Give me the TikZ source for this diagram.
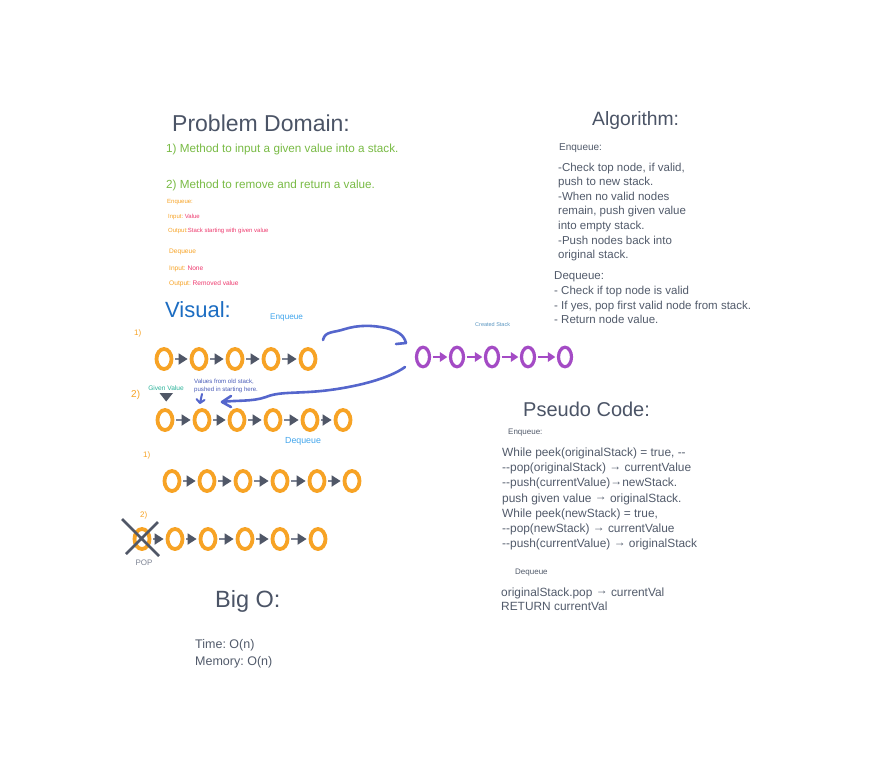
\documentclass[tikz,border=0pt]{standalone}
\usepackage{fontspec}
\setmainfont{Liberation Sans}[Ligatures=TeXOff]
\usetikzlibrary{shapes.geometric,arrows.meta}
\definecolor{titleC}{HTML}{4B5466}
\definecolor{bodyC}{HTML}{525B6B}
\definecolor{orangeC}{HTML}{F7A325}
\definecolor{pinkC}{HTML}{EE3A6E}
\definecolor{greenC}{HTML}{79BB45}
\definecolor{visualC}{HTML}{1C6DC2}
\definecolor{lightblueC}{HTML}{41A5EC}
\definecolor{purpleC}{HTML}{A44BC5}
\definecolor{curveC}{HTML}{5566CC}
\definecolor{lineC}{HTML}{7E8494}
\definecolor{headC}{HTML}{505767}
\definecolor{tealC}{HTML}{2BB39A}
\definecolor{noteC}{HTML}{4A5CB8}
\newcommand{\fs}[2]{\fontsize{#1}{#2}\selectfont}
\newcommand{\rarr}{\raisebox{1.2pt}{→}}
\tikzset{
  oo/.style={ellipse, draw=orangeC, line width=3.8pt, minimum width=15pt, minimum height=20pt, inner sep=0pt},
  po/.style={ellipse, draw=purpleC, line width=3.2pt, minimum width=13pt, minimum height=19.5pt, inner sep=0pt},
  chainarr/.style={draw=lineC, line width=1.8pt, shorten <=1.8pt, shorten >=2pt, -{Triangle[length=9pt,width=11pt,color=headC]}},
  purparr/.style={draw=purpleC, line width=1.6pt, shorten <=1.6pt, shorten >=1.6pt, -{Triangle[length=7.5pt,width=9.5pt,color=purpleC]}},
  handcurve/.style={draw=curveC, line width=2.6pt, line cap=round, line join=round},
  txt/.style={inner sep=0pt, anchor=west},
  blk/.style={inner sep=0pt, anchor=west, align=left},
}
\begin{document}
\frenchspacing
\begin{tikzpicture}[x=1pt,y=-1pt]
\useasboundingbox (0,0) rectangle (869,781);
\fill[white] (0,0) rectangle (869,781);

% ---------- Problem Domain ----------
\node[txt, text=titleC, font=\fs{23}{27}] (pdtitle) at (172,123) {Problem Domain:};
\node[txt, text=greenC, font=\fs{11.7}{14}] (pd1) at (166,149) {1) Method to input a given value into a stack.};
\node[txt, text=greenC, font=\fs{11.7}{14}] (pd2) at (166,185) {2) Method to remove and return a value.};
\node[txt, text=orangeC, font=\fs{6}{7}] (pdenq) at (167,202) {Enqueue:};
\node[txt, font=\fs{6}{7}] (pdin1) at (168,217) {\textcolor{orangeC}{Input:} \textcolor{pinkC}{Value}};
\node[txt, font=\fs{6}{7}] (pdout1) at (168,231) {\textcolor{orangeC}{Output:}\textcolor{pinkC}{Stack starting with given value}};
\node[txt, text=orangeC, font=\fs{6.6}{8}] (pddeq) at (169,252) {Dequeue};
\node[txt, font=\fs{6.6}{8}] (pdin2) at (169,269) {\textcolor{orangeC}{Input:} \textcolor{pinkC}{None}};
\node[txt, font=\fs{6.6}{8}] (pdout2) at (169,284) {\textcolor{orangeC}{Output:} \textcolor{pinkC}{Removed value}};

% ---------- Algorithm ----------
\node[txt, text=titleC, font=\fs{19.3}{23}] (algtitle) at (592,121) {Algorithm:};
\node[txt, text=bodyC, font=\fs{10}{12}] (algenq) at (559,148) {Enqueue:};
\node[blk, text=bodyC, font=\fs{11.5}{14.6}] (algenqtxt) at (558,212) {-Check top node, if valid,\\push to new stack.\\-When no valid nodes\\remain, push given value\\into empty stack.\\-Push nodes back into\\original stack.};
\node[blk, text=bodyC, font=\fs{11.5}{14.7}] (algdeqtxt) at (554,298) {Dequeue:\\- Check if top node is valid\\- If yes, pop first valid node from stack.\\- Return node value.};

% ---------- Pseudo Code ----------
\node[txt, text=titleC, font=\fs{20}{24}] (pctitle) at (523,409) {Pseudo Code:};
\node[txt, text=bodyC, font=\fs{8}{10}] (pcenq) at (508,433) {Enqueue:};
\node[blk, text=bodyC, font=\fs{11.9}{15.3}] (pcenqtxt) at (502,499) {While peek(originalStack) = true, --\\--pop(originalStack) \rarr{} currentValue\\--push(currentValue)\rarr{}newStack.\\push given value \rarr{} originalStack.\\While peek(newStack) = true,\\--pop(newStack) \rarr{} currentValue\\--push(currentValue) \rarr{} originalStack};
\node[txt, text=bodyC, font=\fs{8}{10}] (pcdeq) at (515,573) {Dequeue};
\node[blk, text=bodyC, font=\fs{11.9}{14.5}] (pcdeqtxt) at (501,599) {originalStack.pop \rarr{} currentVal\\RETURN currentVal};

% ---------- Big O ----------
\node[txt, text=titleC, font=\fs{23.5}{27}] (bigotitle) at (215,601) {Big O:};
\node[blk, text=bodyC, font=\fs{12.5}{17}] (bigotxt) at (195,654) {Time: O(n)\\Memory: O(n)};

% ---------- Visual ----------
\node[txt, text=visualC, font=\fs{22}{26}] (vistitle) at (165,310) {Visual:};
\node[txt, text=lightblueC, font=\fs{8.2}{10}] (visenq) at (270,318) {Enqueue};
\node[txt, text=lightblueC, font=\fs{8.8}{10}] (visdeq) at (285,441) {Dequeue};
\node[txt, text=orangeC, font=\fs{8}{10}] (lab1) at (134,333) {1)};
\node[txt, text=orangeC, font=\fs{10}{12}] (lab2) at (131,395) {2)};
\node[txt, text=orangeC, font=\fs{8}{10}] (lab3) at (143,455) {1)};
\node[txt, text=orangeC, font=\fs{8}{10}] (lab4) at (140,515) {2)};
\node[txt, text=lightblueC!60!gray, font=\fs{5.5}{7}] (created) at (475,325) {Created Stack};
\node[text=tealC, font=\fs{6.6}{8}, inner sep=0pt] (given) at (166,388) {Given Value};
\node[blk, text=noteC, font=\fs{6.1}{7.5}] (values) at (194,386) {Values from old stack,\\pushed in starting here.};
\fill[headC] (159.5,393) -- (173,393) -- (166.2,401.5) -- cycle;

% row 1
\foreach \x [count=\i] in {164,199,235,271,308} \node[oo] (a\i) at (\x,359) {};
\foreach \i/\j in {1/2,2/3,3/4,4/5} \draw[chainarr] (a\i) -- (a\j);
% row 2
\foreach \x [count=\i] in {165,202,237,273,310,343} \node[oo] (b\i) at (\x,420) {};
\foreach \i/\j in {1/2,2/3,3/4,4/5,5/6} \draw[chainarr] (b\i) -- (b\j);
% row 3
\foreach \x [count=\i] in {172,207,243,280,317,352} \node[oo] (c\i) at (\x,481) {};
\foreach \i/\j in {1/2,2/3,3/4,4/5,5/6} \draw[chainarr] (c\i) -- (c\j);
% row 4
\foreach \x [count=\i] in {142,175,208,245,280,318} \node[oo] (d\i) at (\x,539) {};
\foreach \i/\j in {1/2,2/3,3/4,4/5,5/6} \draw[chainarr] (d\i) -- (d\j);
\draw[headC, line width=2.8pt] (122,519) -- (159,556) (158,522) -- (126,554);
\node[text=lineC, font=\fs{8}{10}, inner sep=0pt] (pop) at (144,563) {POP};
% purple created stack
\foreach \x [count=\i] in {423,457,492,528,565} \node[po] (p\i) at (\x,357) {};
\foreach \i/\j in {1/2,2/3,3/4,4/5} \draw[purparr] (p\i) -- (p\j);

% hand-drawn curves
\coordinate (c1s) at (323,340);
\coordinate (c1e) at (406,343);
\draw[handcurve] (c1s) .. controls (325,331) and (333,333) .. (345,329)
  .. controls (358,325) and (372,325) .. (386,328)
  .. controls (398,331) and (404,335) .. (c1e);
\draw[handcurve] (c1e) -- (396,344);
\coordinate (c2s) at (405,367);
\coordinate (c2e) at (222,402);
\draw[handcurve] (c2s) .. controls (390,378) and (360,386) .. (330,390)
  .. controls (300,394) and (280,391) .. (266,397)
  .. controls (252,402) and (235,400) .. (c2e);
\draw[handcurve] (c2e) -- (231,396) (c2e) -- (231,407);
\coordinate (sa1) at (202,394);
\coordinate (sa2) at (200,403);
\draw[handcurve, line width=2pt] (sa1) -- (sa2) (sa2) -- (196.5,399) (sa2) -- (204.5,400);
\end{tikzpicture}
\end{document}
